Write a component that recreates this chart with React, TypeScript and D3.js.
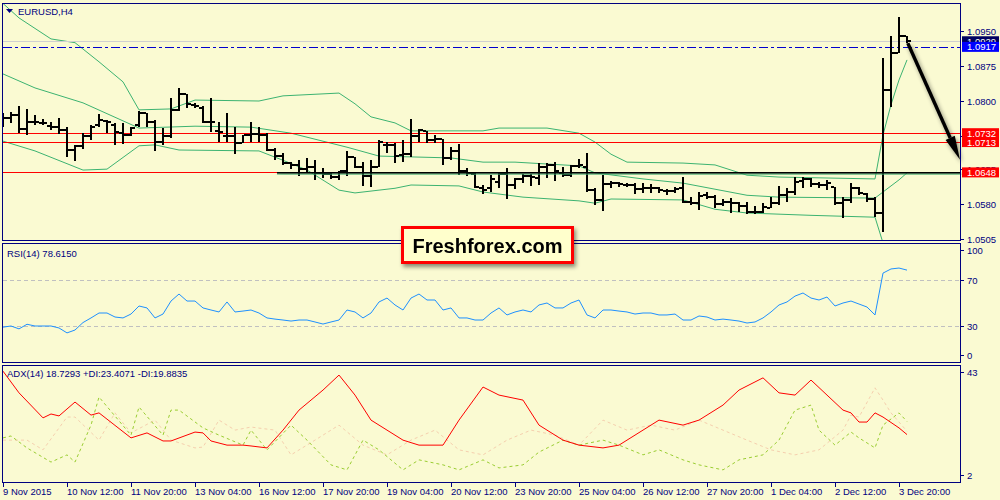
import React, { useRef, useEffect } from "react";
import * as d3 from "d3";

// H4 bars, 9 Nov 2015 04:00 .. 4 Dec 2015 00:00
const opens = [
  1.0762, 1.0764, 1.0771, 1.0741, 1.0757, 1.0754, 1.0748, 1.0746, 1.0738, 1.0696,
  1.0705, 1.0725, 1.075, 1.0759, 1.075, 1.0732, 1.0729, 1.075, 1.0775, 1.0757,
  1.0714, 1.0725, 1.0781, 1.0815, 1.0793, 1.0786, 1.0755, 1.0736, 1.0725, 1.0725,
  1.0712, 1.0728, 1.0731, 1.0728, 1.0696, 1.0683, 1.0668, 1.0664, 1.0655, 1.0659,
  1.0646, 1.0644, 1.0639, 1.065, 1.0682, 1.0659, 1.0641, 1.066, 1.0706, 1.0706,
  1.0685, 1.0688, 1.0726, 1.0736, 1.0718, 1.0719, 1.0678, 1.0693, 1.065, 1.0645,
  1.0614, 1.0614, 1.0628, 1.0645, 1.0621, 1.0633, 1.064, 1.0635, 1.066, 1.0664,
  1.0646, 1.0642, 1.0662, 1.066, 1.061, 1.0589, 1.0623, 1.0625, 1.0621, 1.0621,
  1.0612, 1.0614, 1.0614, 1.0609, 1.0609, 1.0614, 1.0585, 1.0582, 1.0599, 1.0596,
  1.0581, 1.0585, 1.0582, 1.0576, 1.0564, 1.0564, 1.0571, 1.0582, 1.06, 1.0607,
  1.063, 1.0633, 1.0623, 1.0621, 1.0617, 1.0582, 1.0589, 1.0614, 1.0601, 1.0592,
  1.0561, 1.0824, 1.0903, 1.0941,
];
const highs = [
  1.0775, 1.0777, 1.0791, 1.0784, 1.0771, 1.0762, 1.0757, 1.0764, 1.0746, 1.0707,
  1.0732, 1.075, 1.0773, 1.0761, 1.0754, 1.0754, 1.0746, 1.0779, 1.0775, 1.0761,
  1.0743, 1.0807, 1.0829, 1.0815, 1.0797, 1.079, 1.0807, 1.0755, 1.0775, 1.0746,
  1.0728, 1.0757, 1.0746, 1.0732, 1.07, 1.0689, 1.0671, 1.0675, 1.0678, 1.0675,
  1.0657, 1.0646, 1.0652, 1.0693, 1.0682, 1.0671, 1.0675, 1.0718, 1.0714, 1.0711,
  1.0718, 1.0762, 1.0741, 1.0736, 1.0728, 1.072, 1.0703, 1.0709, 1.0657, 1.0646,
  1.0621, 1.0643, 1.0648, 1.0657, 1.0635, 1.0645, 1.0645, 1.0669, 1.0668, 1.0671,
  1.066, 1.0664, 1.0676, 1.0689, 1.0614, 1.0643, 1.063, 1.0628, 1.0625, 1.0626,
  1.0625, 1.0623, 1.0617, 1.0612, 1.0616, 1.0639, 1.0596, 1.0605, 1.0607, 1.06,
  1.0592, 1.0594, 1.0585, 1.0585, 1.0576, 1.0583, 1.0596, 1.0619, 1.0614, 1.0639,
  1.0639, 1.0635, 1.0628, 1.0632, 1.0617, 1.0596, 1.0626, 1.0617, 1.0603, 1.0596,
  1.0893, 1.0941, 1.0982, 1.0941,
];
const lows = [
  1.0746, 1.0754, 1.0732, 1.0729, 1.075, 1.075, 1.0738, 1.0731, 1.0682, 1.0673,
  1.0698, 1.0718, 1.0746, 1.0732, 1.0707, 1.0709, 1.0725, 1.0746, 1.0746, 1.0693,
  1.0707, 1.0721, 1.0779, 1.0786, 1.0786, 1.0754, 1.0734, 1.0714, 1.0714, 1.0688,
  1.0711, 1.0714, 1.0714, 1.0693, 1.0675, 1.0664, 1.0655, 1.0641, 1.0646, 1.0632,
  1.0635, 1.0634, 1.0632, 1.0641, 1.0657, 1.0619, 1.0617, 1.0659, 1.0689, 1.0668,
  1.0671, 1.0682, 1.0714, 1.0711, 1.0711, 1.0664, 1.0675, 1.0642, 1.064, 1.0614,
  1.0602, 1.0607, 1.0614, 1.0592, 1.0612, 1.0625, 1.0619, 1.0621, 1.0635, 1.063,
  1.0639, 1.0639, 1.0657, 1.0607, 1.0578, 1.0566, 1.0614, 1.0616, 1.0616, 1.0602,
  1.0603, 1.0604, 1.0603, 1.0599, 1.0603, 1.0583, 1.0578, 1.0567, 1.059, 1.0571,
  1.0576, 1.0562, 1.0564, 1.0559, 1.0559, 1.0562, 1.0571, 1.0578, 1.0585, 1.06,
  1.0614, 1.0617, 1.0614, 1.061, 1.0578, 1.0551, 1.0582, 1.06, 1.0585, 1.0553,
  1.0521, 1.0788, 1.0903, 1.0926,
];
const closes = [
  1.0764, 1.0771, 1.0741, 1.0757, 1.0757, 1.0754, 1.0746, 1.0738, 1.0696, 1.0705,
  1.0725, 1.0746, 1.0761, 1.0757, 1.0734, 1.0729, 1.0743, 1.0775, 1.0757, 1.0714,
  1.0725, 1.0781, 1.0815, 1.0795, 1.0791, 1.0755, 1.0755, 1.0734, 1.0725, 1.0711,
  1.0728, 1.0731, 1.0728, 1.0696, 1.0683, 1.0668, 1.0664, 1.0655, 1.0659, 1.0646,
  1.0644, 1.0639, 1.065, 1.0682, 1.0659, 1.0641, 1.066, 1.0714, 1.0706, 1.0683,
  1.0688, 1.0726, 1.0738, 1.0718, 1.0719, 1.0678, 1.0693, 1.065, 1.0646, 1.0616,
  1.061, 1.0633, 1.0645, 1.0621, 1.0633, 1.064, 1.0639, 1.066, 1.0664, 1.065,
  1.0642, 1.0662, 1.0664, 1.061, 1.0589, 1.0623, 1.0625, 1.0623, 1.0621, 1.0612,
  1.0614, 1.0614, 1.061, 1.0609, 1.0612, 1.0585, 1.0582, 1.0597, 1.0596, 1.058,
  1.0585, 1.0582, 1.0576, 1.0564, 1.0564, 1.0573, 1.0582, 1.06, 1.0607, 1.0628,
  1.0633, 1.0623, 1.0621, 1.0625, 1.0582, 1.0589, 1.0614, 1.0603, 1.0592, 1.0561,
  1.0824, 1.0903, 1.0941, 1.0929,
];

const timeLabels = [
  "9 Nov 2015", "10 Nov 12:00", "11 Nov 20:00", "13 Nov 04:00", "16 Nov 12:00",
  "17 Nov 20:00", "19 Nov 04:00", "20 Nov 12:00", "23 Nov 20:00", "25 Nov 04:00",
  "26 Nov 12:00", "27 Nov 20:00", "1 Dec 04:00", "2 Dec 12:00", "3 Dec 20:00",
];
// 1.0725 sits under the red level boxes, only its tick shows
const priceTicks = [1.095, 1.0875, 1.08, 1.0725, 1.0655, 1.058, 1.0505];
const hiddenPriceTicks = [1.0725];
const rsiTicks = [100, 70, 30, 0];
const adxTicks = [43, 2];

// Bollinger bands read at [bar, price]
const upperBand = [
  [0, 1.101], [2, 1.0979], [6, 1.0934], [9, 1.0926], [12, 1.0885], [15, 1.0842],
  [17, 1.0782], [21, 1.0784], [24, 1.0803], [32, 1.0801], [35, 1.0812], [42, 1.0818],
  [44, 1.0795], [46, 1.0767], [49, 1.0754], [51, 1.0737], [60, 1.0737], [62, 1.0743],
  [68, 1.0743], [72, 1.0732], [74, 1.0713], [76, 1.0687], [78, 1.067], [85, 1.0668],
  [89, 1.0664], [93, 1.0642], [97, 1.0638], [109, 1.0634], [110, 1.0728], [111, 1.0793],
  [112, 1.0846], [113, 1.0889],
];
const midBand = [
  [0, 1.0859], [4, 1.0829], [10, 1.0797], [17, 1.0743], [24, 1.0747], [31, 1.0745],
  [36, 1.0732], [43, 1.0702], [47, 1.0683], [56, 1.0679], [60, 1.067], [64, 1.067],
  [72, 1.0662], [74, 1.0647], [80, 1.0634], [85, 1.0625], [93, 1.0599], [97, 1.0595],
  [109, 1.0593], [110, 1.0606], [111, 1.0619], [112, 1.0632], [113, 1.0647],
];
const lowBand = [
  [0, 1.0715], [4, 1.0694], [10, 1.0653], [13, 1.0655], [17, 1.0705], [19, 1.0707],
  [22, 1.0696], [32, 1.0694], [35, 1.0674], [38, 1.0653], [42, 1.061], [44, 1.0604],
  [49, 1.0614], [51, 1.0621], [57, 1.0619], [60, 1.0606], [65, 1.0595], [72, 1.0587],
  [74, 1.0582], [76, 1.0591], [85, 1.0589], [89, 1.0569], [93, 1.0561], [101, 1.0556],
  [109, 1.0552], [110, 1.0497],
];

const rsiValues = [
  29, 30, 27.5, 31.5, 30, 30, 30, 28.3, 24, 26.5, 33, 37, 41.3, 41.3, 37.8, 37, 40.4,
  47.4, 45.7, 37, 40.4, 51.7, 57.8, 51.7, 51.7, 45.7, 43.9, 42.2, 50.9, 42.2, 43, 43.9,
  41.3, 37, 36, 35.2, 34.3, 35.2, 35.2, 33.5, 31.7, 33.5, 35.2, 43.9, 42.2, 37, 41.3,
  50.9, 54.3, 48.3, 43.9, 54.3, 57.8, 52.6, 52.6, 43.9, 45.7, 37, 37, 35.2, 35.2, 41.3,
  45.7, 39.6, 42.2, 43.9, 42.2, 48.3, 50, 45.7, 45.7, 50, 52.6, 39.6, 37, 43.9, 43.9, 43,
  42.2, 40.4, 41.3, 41.3, 39.6, 39.6, 40.4, 35.2, 35.2, 38.7, 37.8, 35.2, 36, 35.2, 34.3,
  32.6, 33.5, 37, 42.2, 48.3, 50.9, 56, 58.7, 54.3, 52.6, 55.2, 47.4, 50, 51.7, 49.1,
  46.5, 39.6, 76, 79.6, 80.4, 78.6,
];

const adxMain = [
  [0, 41.5], [2, 33.7], [5, 24.7], [6, 26.1], [7, 25.4], [9, 30.4], [11, 25.7], [12, 26.5],
  [16, 17.5], [18, 19.3], [20, 16.4], [21, 16.4], [24, 19.6], [25, 19.3], [26, 16.4],
  [28, 14.9], [30, 14.9], [31, 14.6], [33, 13.9], [35, 20.3], [37, 27.5], [40, 34.7],
  [42, 40.1], [44, 32.9], [46, 23.9], [50, 16.7], [52, 14.9], [55, 14.9], [57, 23.9],
  [60, 35.8], [62, 32.9], [65, 31.1], [67, 22.1], [70, 16.7], [72, 14.9], [75, 13.9],
  [77, 14.9], [80, 20.3], [82, 23.9], [85, 22.1], [87, 23.9], [90, 29.3], [92, 34.7],
  [95, 39.1], [97, 33.7], [99, 32.9], [101, 38.3], [103, 32.9], [105, 27.5], [106, 26.5],
  [107, 23.2], [108, 23.2], [109, 26.5], [110, 25], [112, 21.1], [113, 18.7],
];
const plusDI = [
  [0, 17.5], [1, 18.2], [3, 13.9], [6, 8.8], [8, 11.4], [9, 8.8], [11, 22.1], [12, 32.2],
  [16, 18.5], [17, 28.6], [20, 18.5], [21, 27.5], [22, 27.5], [25, 21.1], [27, 18.5],
  [30, 14.9], [31, 20.3], [33, 13.2], [36, 22.1], [38, 16.7], [41, 7.8], [43, 6],
  [45, 16.7], [47, 13.2], [50, 6], [52, 9.6], [55, 7.8], [57, 6], [60, 9.6], [62, 6.7],
  [65, 7.8], [67, 12.4], [70, 16.7], [72, 14.9], [75, 16.7], [77, 14.9], [80, 11.4],
  [82, 13.2], [85, 9.6], [87, 7.8], [90, 6], [92, 9.6], [95, 11.4], [97, 16.7], [99, 27.5],
  [101, 29.3], [102, 20.3], [104, 14.9], [106, 19.6], [107, 17.5], [109, 13.9], [110, 22.1],
  [112, 26.5], [113, 23.4],
];
const minusDI = [
  [0, 16.7], [3, 16.7], [5, 13.2], [8, 25], [9, 25], [12, 16.7], [14, 26.5], [16, 19.3],
  [19, 23.9], [21, 16.7], [24, 13.9], [25, 14.2], [27, 23.9], [29, 20.3], [31, 21.4],
  [34, 20.3], [36, 11.4], [39, 16.7], [42, 22.1], [45, 14.9], [48, 11.4], [51, 16.7],
  [54, 20.3], [57, 13.2], [60, 11.4], [63, 16.7], [66, 20.3], [69, 18.5], [72, 14.9],
  [75, 23.9], [78, 20.3], [81, 22.1], [84, 20.3], [87, 23.9], [90, 20.3], [93, 16.7],
  [96, 13.2], [99, 11.4], [102, 13.2], [105, 20.3], [106, 25.7], [107, 25], [109, 35.5],
  [110, 31.1], [111, 26.5], [113, 19.9],
];

// price labels on the right scale: value, background
const levelLabels = [
  { v: 1.0929, bg: "#000060" },
  { v: 1.0917, bg: "#0000ff" },
  { v: 1.0732, bg: "#ff0000" },
  { v: 1.0713, bg: "#ff0000" },
  { v: 1.0648, bg: "#ff0000" },
];

const NAVY = "#000080";
const FONT = "'Liberation Sans', Arial, sans-serif";

export default function App() {
  const svgRef = useRef<SVGSVGElement>(null);

  useEffect(() => {
    if (!svgRef.current) return;
    const svg = d3.select(svgRef.current);
    svg.selectAll("*").remove();

    const W = 1000;
    const H = 500;
    const left = 3;
    const right = 960;
    const main = { top: 3, bottom: 240 };
    const rsiP = { top: 243, bottom: 362 };
    const adxP = { top: 365, bottom: 482 };

    const x = d3.scaleLinear().domain([0, 113]).range([3, 907]);
    const y = d3.scaleLinear().domain([1.0501, 1.1011]).range([241, 3]);
    const yRsi = d3.scaleLinear().domain([0, 100]).range([360.5, 245.5]);
    const yAdx = d3.scaleLinear().domain([2, 43]).range([481, 367]);

    svg.append("rect").attr("width", W).attr("height", H).attr("fill", "#fafad2");

    const defs = svg.append("defs");
    const clip = (id: string, p: { top: number; bottom: number }) =>
      defs
        .append("clipPath")
        .attr("id", id)
        .append("rect")
        .attr("x", left)
        .attr("y", p.top)
        .attr("width", right - left)
        .attr("height", p.bottom - p.top);
    clip("clip-main", main);
    clip("clip-rsi", rsiP);
    clip("clip-adx", adxP);

    const shadow = defs
      .append("filter")
      .attr("id", "shadow")
      .attr("x", "-20%")
      .attr("y", "-20%")
      .attr("width", "140%")
      .attr("height", "180%");
    shadow
      .append("feDropShadow")
      .attr("dx", 2)
      .attr("dy", 3)
      .attr("stdDeviation", 2)
      .attr("flood-color", "#000")
      .attr("flood-opacity", 0.45);

    // ---------- main panel ----------
    const gMain = svg.append("g").attr("clip-path", "url(#clip-main)");

    const bandLine = d3
      .line<number[]>()
      .x((d) => x(d[0]))
      .y((d) => y(d[1]));
    [upperBand, midBand, lowBand].forEach((band) => {
      gMain
        .append("path")
        .datum(band)
        .attr("fill", "none")
        .attr("stroke", "#3cb371")
        .attr("stroke-width", 1)
        .attr("d", bandLine);
    });

    // horizontal levels
    gMain
      .append("line")
      .attr("x1", left)
      .attr("x2", right)
      .attr("y1", Math.round(y(1.0929)) + 0.5)
      .attr("y2", Math.round(y(1.0929)) + 0.5)
      .attr("stroke", "#d0d0d0");
    gMain
      .append("line")
      .attr("x1", left)
      .attr("x2", right)
      .attr("y1", Math.round(y(1.0917)) + 0.5)
      .attr("y2", Math.round(y(1.0917)) + 0.5)
      .attr("stroke", "#0000cd")
      .attr("stroke-dasharray", "9,3,3,3");
    [1.0732, 1.0713, 1.0648].forEach((v) => {
      gMain
        .append("line")
        .attr("x1", left)
        .attr("x2", right)
        .attr("y1", Math.round(y(v)) + 0.5)
        .attr("y2", Math.round(y(v)) + 0.5)
        .attr("stroke", "#ff0000");
    });

    // OHLC bars
    const bars = gMain
      .selectAll(".bar")
      .data(d3.range(opens.length))
      .enter()
      .append("g")
      .attr("class", "bar")
      .attr("shape-rendering", "crispEdges");
    bars
      .append("rect")
      .attr("x", (i) => x(i) - 1)
      .attr("width", 2)
      .attr("y", (i) => y(highs[i]))
      .attr("height", (i) => Math.max(1, y(lows[i]) - y(highs[i])))
      .attr("fill", "#000");
    bars
      .append("rect")
      .attr("x", (i) => x(i) - 4)
      .attr("width", 3)
      .attr("y", (i) => Math.round(y(opens[i])) - 1)
      .attr("height", 2)
      .attr("fill", "#000");
    bars
      .append("rect")
      .attr("x", (i) => x(i) + 1)
      .attr("width", 3)
      .attr("y", (i) => Math.round(y(closes[i])) - 1)
      .attr("height", 2)
      .attr("fill", "#000");

    // support line with shadow
    const ySup = Math.round(y(1.0648)) + 0.5;
    const sup = svg.append("g").attr("filter", "url(#shadow)");
    sup
      .append("line")
      .attr("x1", x(34.25))
      .attr("x2", right)
      .attr("y1", ySup + 1.5)
      .attr("y2", ySup + 1.5)
      .attr("stroke", "#3cb371")
      .attr("stroke-width", 1);
    sup
      .append("line")
      .attr("x1", x(34.25))
      .attr("x2", right)
      .attr("y1", ySup)
      .attr("y2", ySup)
      .attr("stroke", "#000")
      .attr("stroke-width", 2);

    // arrow
    const ax1 = x(113.1);
    const ay1 = y(1.0925);
    const ax2 = right;
    const ay2 = y(1.0675);
    const ang = Math.atan2(ay2 - ay1, ax2 - ax1);
    const headLen = 24;
    const headW = 5;
    const bx = ax2 - headLen * Math.cos(ang);
    const by = ay2 - headLen * Math.sin(ang);
    const arrow = svg.append("g").attr("filter", "url(#shadow)");
    arrow
      .append("line")
      .attr("x1", ax1)
      .attr("y1", ay1)
      .attr("x2", bx)
      .attr("y2", by)
      .attr("stroke", "#000")
      .attr("stroke-width", 3.5);
    arrow
      .append("path")
      .attr(
        "d",
        `M${ax2},${ay2} L${bx + headW * Math.sin(ang)},${by - headW * Math.cos(ang)} L${
          bx - headW * Math.sin(ang)
        },${by + headW * Math.cos(ang)} Z`
      )
      .attr("fill", "#000");

    // ---------- RSI ----------
    const gRsi = svg.append("g").attr("clip-path", "url(#clip-rsi)");
    [70, 30].forEach((v) => {
      gRsi
        .append("line")
        .attr("x1", left)
        .attr("x2", right)
        .attr("y1", Math.round(yRsi(v)) + 0.5)
        .attr("y2", Math.round(yRsi(v)) + 0.5)
        .attr("stroke", "#c0c0c0")
        .attr("stroke-dasharray", "4,3");
    });
    gRsi
      .append("path")
      .datum(rsiValues)
      .attr("fill", "none")
      .attr("stroke", "#1e90ff")
      .attr("stroke-width", 1)
      .attr(
        "d",
        d3
          .line<number>()
          .x((d, i) => x(i))
          .y((d) => yRsi(d))
      );

    // ---------- ADX ----------
    const gAdx = svg.append("g").attr("clip-path", "url(#clip-adx)");
    const adxLine = d3
      .line<number[]>()
      .x((d) => x(d[0]))
      .y((d) => yAdx(d[1]));
    gAdx
      .append("path")
      .datum(minusDI)
      .attr("fill", "none")
      .attr("stroke", "#f5cfae")
      .attr("stroke-dasharray", "3,3")
      .attr("d", adxLine);
    gAdx
      .append("path")
      .datum(plusDI)
      .attr("fill", "none")
      .attr("stroke", "#9acd32")
      .attr("stroke-dasharray", "3,3")
      .attr("d", adxLine);
    gAdx
      .append("path")
      .datum(adxMain)
      .attr("fill", "none")
      .attr("stroke", "#ff0000")
      .attr("d", adxLine);

    // ---------- frames (one pixel row each, a gap between panels) ----------
    [main, rsiP, adxP].forEach((p) => {
      svg
        .append("rect")
        .attr("x", left - 0.5)
        .attr("y", p.top + 0.5)
        .attr("width", right - left + 1)
        .attr("height", p.bottom - p.top)
        .attr("fill", "none")
        .attr("stroke", NAVY)
        .attr("stroke-width", 1);
    });

    // ---------- right axis labels ----------
    const labelG = svg
      .append("g")
      .style("font-family", FONT)
      .style("font-size", "9.5px")
      .attr("fill", NAVY);

    const axisLabel = (yy: number, text: string | null) => {
      labelG
        .append("line")
        .attr("x1", right)
        .attr("x2", right + 4)
        .attr("y1", Math.round(yy) + 0.5)
        .attr("y2", Math.round(yy) + 0.5)
        .attr("stroke", NAVY);
      if (text === null) return;
      labelG
        .append("text")
        .attr("x", right + 7)
        .attr("y", yy)
        .attr("dominant-baseline", "central")
        .text(text);
    };
    priceTicks.forEach((v) =>
      axisLabel(y(v), hiddenPriceTicks.includes(v) ? null : v.toFixed(4))
    );
    rsiTicks.forEach((v) => {
      const yy = Math.min(Math.max(yRsi(v), rsiP.top + 7), rsiP.bottom - 7);
      axisLabel(yy, String(v));
    });
    adxTicks.forEach((v) => {
      const yy = Math.min(Math.max(yAdx(v), adxP.top + 7), adxP.bottom - 7);
      axisLabel(yy, String(v));
    });

    levelLabels.forEach((l) => {
      const yy = y(l.v);
      labelG
        .append("rect")
        .attr("x", right + 2)
        .attr("y", yy - 5)
        .attr("width", 37)
        .attr("height", 10)
        .attr("fill", l.bg);
      labelG
        .append("text")
        .attr("x", right + 7)
        .attr("y", yy)
        .attr("dominant-baseline", "central")
        .attr("fill", "#fff")
        .text(l.v.toFixed(4));
    });

    // ---------- time axis ----------
    timeLabels.forEach((t, i) => {
      const xx = Math.round(x(i * 8)) + 0.5;
      labelG
        .append("line")
        .attr("x1", xx)
        .attr("x2", xx)
        .attr("y1", adxP.bottom + 1)
        .attr("y2", adxP.bottom + 5)
        .attr("stroke", NAVY);
      labelG
        .append("text")
        .attr("x", xx - 0.5)
        .attr("y", 495)
        .text(t);
    });

    // ---------- panel titles ----------
    labelG
      .append("path")
      .attr("d", "M6,9 L13,9 L9.5,13 Z")
      .attr("fill", NAVY);
    labelG.append("text").attr("x", 18).attr("y", 11).attr("dominant-baseline", "central").text("EURUSD,H4");
    labelG
      .append("text")
      .attr("x", 7)
      .attr("y", 253)
      .attr("dominant-baseline", "central")
      .text("RSI(14) 78.6150");
    labelG
      .append("text")
      .attr("x", 7)
      .attr("y", 373)
      .attr("dominant-baseline", "central")
      .text("ADX(14) 18.7293 +DI:23.4071 -DI:19.8835");

    // ---------- logo ----------
    const logo = svg.append("g").attr("filter", "url(#shadow)");
    logo
      .append("rect")
      .attr("x", 402.5)
      .attr("y", 227.5)
      .attr("width", 170)
      .attr("height", 35)
      .attr("fill", "#ffffcc")
      .attr("stroke", "#ff0000")
      .attr("stroke-width", 3);
    logo
      .append("text")
      .attr("x", 487.5)
      .attr("y", 246)
      .attr("text-anchor", "middle")
      .attr("dominant-baseline", "central")
      .style("font-family", FONT)
      .style("font-size", "20px")
      .style("font-weight", "bold")
      .attr("fill", "#000")
      .text("Freshforex.com");
  }, []);

  return (
    <svg
      ref={svgRef}
      width={1000}
      height={500}
      style={{ position: "absolute", left: 0, top: 0 }}
    ></svg>
  );
}
